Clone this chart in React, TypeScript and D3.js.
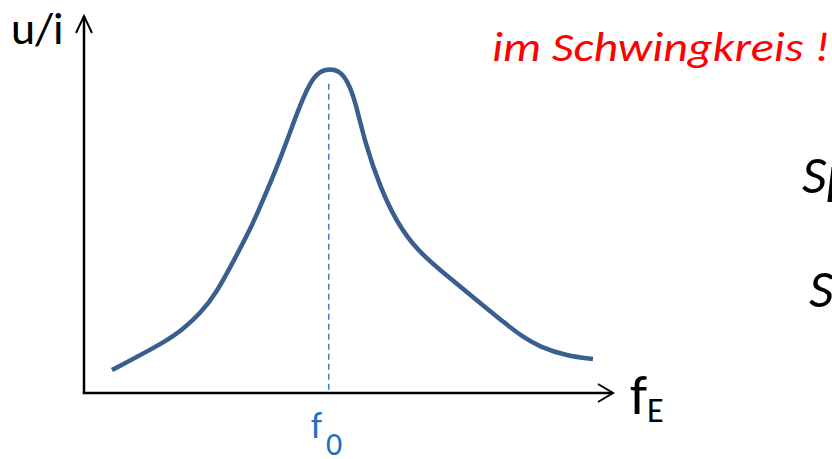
import React from "react";
import * as d3 from "d3";

// Resonance curve samples (x: f_E in % of axis, y: u/i in % of axis)
const curveX = [5.35, 15.87, 18.93, 22.18, 25.43, 28.49, 31.74, 34.23, 37.48, 40.92, 43.21, 45.12, 47.04, 48.95, 50.48, 51.82, 53.73, 56.6, 59.85, 63.67, 68.07, 74.38, 80.88, 83.94, 87.19, 92.35, 97.32];
const curveY = [6.1, 13.79, 16.98, 20.95, 26.79, 34.75, 43.24, 51.19, 61.8, 75.07, 82.49, 85.4, 86.0, 85.4, 82.49, 77.72, 66.31, 54.64, 45.09, 37.93, 32.63, 25.46, 18.04, 14.85, 12.2, 9.81, 9.02];
const resonanceX = 46.8;
const dashTopY = 82;

const yLabel = "u/i";
const xLabelMain = "f";
const xLabelSub = "E";
const f0Main = "f";
const f0Sub = "0";
const titleText = "im Schwingkreis !";
const sideTexts = ["Spannungsresonanz", "Stromresonanz"];

const W = 832;
const H = 459;

export default function App() {
  const x = d3.scaleLinear().domain([0, 100]).range([84, 607]);
  const y = d3.scaleLinear().domain([0, 100]).range([393, 16]);
  const pts: [number, number][] = curveX.map((v, i) => [v, curveY[i]]);
  const line = d3
    .line<[number, number]>()
    .x((d) => x(d[0]))
    .y((d) => y(d[1]))
    .curve(d3.curveBasis);
  const x0 = x(0);
  const y0 = y(0);
  const xTip = x(100) + 6;
  const yTip = y(100);
  const font = "Carlito, Calibri, 'Open Sans', sans-serif";
  return (
    <svg
      width={W}
      height={H}
      style={{ position: "absolute", left: 0, top: 0, background: "#fff" }}
    >
      {/* axes */}
      <line x1={x0} y1={y0} x2={x0} y2={yTip} stroke="#000" strokeWidth={2.5} />
      <polyline
        points={`${x0 - 8},${yTip + 17} ${x0},${yTip} ${x0 + 8},${yTip + 17}`}
        fill="none"
        stroke="#000"
        strokeWidth={2}
      />
      <line x1={x0 - 1.25} y1={y0} x2={xTip} y2={y0} stroke="#000" strokeWidth={2.5} />
      <polyline
        points={`${xTip - 15},${y0 - 9} ${xTip},${y0} ${xTip - 15},${y0 + 9}`}
        fill="none"
        stroke="#000"
        strokeWidth={2}
      />
      {/* dashed resonance line */}
      <line
        x1={x(resonanceX)}
        x2={x(resonanceX)}
        y1={y(dashTopY)}
        y2={y0}
        stroke="#4a7ec4"
        strokeWidth={1.5}
        strokeDasharray="6,4"
      />
      {/* curve */}
      <path d={line(pts) || ""} fill="none" stroke="#3a5f8f" strokeWidth={4.5} />
      {/* labels */}
      <text x={11} y={44} fontFamily={font} fontSize={46} fill="#000">
        {yLabel}
      </text>
      <text x={630} y={414} fontFamily={font} fontSize={56} fill="#000">
        {xLabelMain}
        <tspan fontSize={34} dy={8}>{xLabelSub}</tspan>
      </text>
      <text x={311} y={438} fontFamily={font} fontSize={36} fill="#1f6fc0">
        {f0Main}
        <tspan fontSize={32} dx={4} dy={17}>{f0Sub}</tspan>
      </text>
      <text
        x={492}
        y={61}
        fontFamily={font}
        fontStyle="italic"
        fontSize={40}
        fill="#ff0000"
        textLength={338}
        lengthAdjust="spacingAndGlyphs"
      >
        {titleText}
      </text>
      <text x={802} y={193} fontFamily={font} fontStyle="italic" fontSize={54} fill="#000">
        {sideTexts[0]}
      </text>
      <text x={809} y={307} fontFamily={font} fontStyle="italic" fontSize={54} fill="#000">
        {sideTexts[1]}
      </text>
    </svg>
  );
}
